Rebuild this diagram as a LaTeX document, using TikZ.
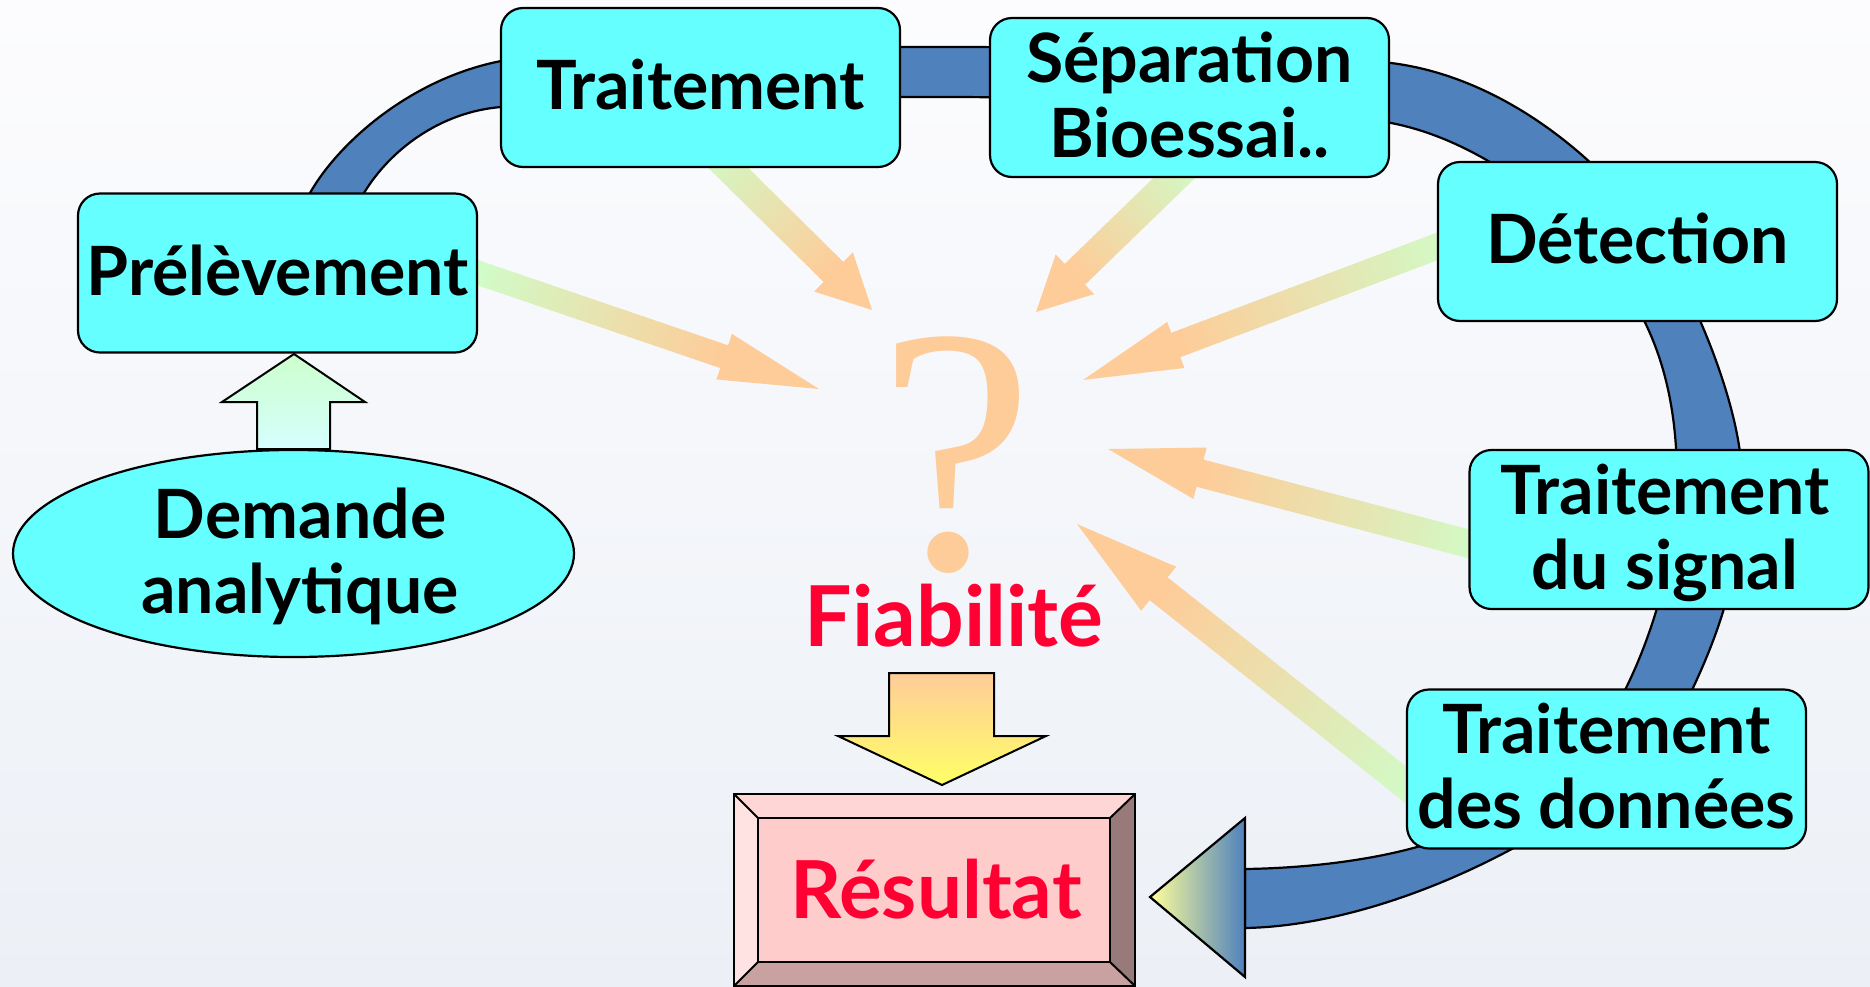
\documentclass[tikz,border=0pt]{standalone}
\usepackage{fontspec}
\setmainfont{Lato}
\newfontfamily\qfont{Liberation Serif}
\usetikzlibrary{calc,shapes.geometric}
\definecolor{bandblue}{RGB}{79,129,189}
\definecolor{boxcyan}{RGB}{102,255,255}
\definecolor{garrgreen}{RGB}{208,252,200}
\definecolor{garrorange}{RGB}{254,204,153}
\definecolor{fiared}{RGB}{255,0,51}
\definecolor{qorange}{RGB}{254,204,153}
\definecolor{bgtop}{RGB}{252,252,254}
\definecolor{bgbot}{RGB}{236,240,246}
\definecolor{rescenter}{RGB}{255,204,204}
\definecolor{restop}{RGB}{255,214,214}
\definecolor{resleft}{RGB}{255,227,227}
\definecolor{resright}{RGB}{153,122,122}
\definecolor{resbottom}{RGB}{201,161,161}
\definecolor{upgreen}{RGB}{204,255,204}
\definecolor{upcyan}{RGB}{214,255,255}
\definecolor{dnorange}{RGB}{255,204,153}
\definecolor{dnyellow}{RGB}{255,255,102}
\definecolor{headyellow}{RGB}{255,255,153}

\newcommand\tstrut{\rule[-13.5pt]{0pt}{71.5pt}}

% gradient arrow: #1 tail, #2 tip, #3 shaft width, #4 head width, #5 head length
\newcommand\gradarrow[5]{%
  \path let \p1=(#1), \p2=(#2) in \pgfextra{%
    \pgfmathsetmacro\tmpL{veclen(\x2-\x1,\y2-\y1)}%
    \pgfmathsetmacro\tmpA{atan2(\y2-\y1,\x2-\x1)}%
    \xdef\gaL{\tmpL}\xdef\gaA{\tmpA}};
  \begin{scope}[shift={(#1)}, rotate=\gaA]
    \pgfmathsetmacro\gaB{\gaL-#5}
    \begin{scope}
      \clip (0,-#3/2) -- (\gaB,-#3/2) -- (\gaB,-#4/2) -- (\gaL,0) -- (\gaB,#4/2) -- (\gaB,#3/2) -- (0,#3/2) -- cycle;
      \foreach \k in {0,...,29}{
        \pgfmathtruncatemacro\gaC{100*\k/29}
        \fill[garrorange!\gaC!garrgreen] ({\gaB*\k/30},-40) rectangle ({\gaB*(\k+1)/30+1},40);
      }
      \fill[garrorange] (\gaB,-40) rectangle (\gaL+2,40);
    \end{scope}
  \end{scope}
}

\begin{document}
\begin{tikzpicture}[x=1pt,y=-1pt,
  box/.style={draw=black, line width=2.2pt, fill=boxcyan, rounded corners=22pt,
    minimum width=399pt, minimum height=159pt, inner sep=0pt},
  boxtext/.style={font=\fontsize{68}{75}\selectfont\bfseries, align=center, inner sep=0pt, text=black},
  ellbox/.style={draw=black, line width=2.2pt, fill=boxcyan, ellipse, inner sep=0pt,
    minimum width=561pt, minimum height=207pt},
  bandline/.style={draw=black, line width=2.2pt, fill=bandblue},
  redtext/.style={text=fiared, inner sep=0pt}
]
\useasboundingbox (0,0) rectangle (1870,986);
\shade[top color=bgtop, bottom color=bgbot] (0,0) rectangle (1870,986);

% blue cycle band (outer edge, then inner edge back)
\filldraw[bandline]
  (300,225) -- (310,193)
  .. controls (340,140) and (420,70) .. (520,58)
  .. controls (600,48.4) and (800,47) .. (950,47)
  .. controls (1100,47) and (1300,52) .. (1391,63)
  .. controls (1480,74) and (1570,130) .. (1640,215)
  .. controls (1682,266) and (1742,400) .. (1742,480)
  .. controls (1742,560) and (1725,620) .. (1692,690)
  .. controls (1650,790) and (1420,925) .. (1245,928)
  -- (1245,869)
  .. controls (1310,868) and (1370,860) .. (1417,847)
  .. controls (1500,822) and (1590,760) .. (1625,690)
  .. controls (1650,640) and (1677,560) .. (1677,480)
  .. controls (1677,390) and (1655,330) .. (1620,280)
  .. controls (1570,210) and (1480,140) .. (1391,123)
  .. controls (1300,106) and (1100,97) .. (945,97)
  .. controls (800,97) and (600,100) .. (501,107)
  .. controls (440,112) and (390,150) .. (364,193)
  -- (375,225) -- cycle;

% gradient arrows towards the question mark
\coordinate (a1) at (470,270);  \coordinate (q1) at (819,389);
\coordinate (a2) at (700,140);  \coordinate (q2) at (872,310);
\coordinate (a3) at (1200,153); \coordinate (q3) at (1036,312);
\coordinate (a4) at (1470,234); \coordinate (q4) at (1083,380);
\coordinate (a5) at (1500,552); \coordinate (q5) at (1108,449);
\coordinate (a6) at (1430,804); \coordinate (q6) at (1077,524);
\gradarrow{a1}{q1}{24}{48}{100}
\gradarrow{a2}{q2}{28}{55}{54}
\gradarrow{a3}{q3}{29}{55}{54}
\gradarrow{a4}{q4}{26}{49}{99}
\gradarrow{a5}{q5}{28}{53}{95}
\gradarrow{a6}{q6}{29}{56}{104}

% step boxes
\node[box] (prel) at (277.5,273) {};
\node[boxtext] (prelt) at (prel.center) {\tstrut Prélèvement};
\node[box] (trait) at (700.5,87.5) {};
\node[boxtext] (traitt) at (trait.center) {\tstrut Traitement};
\node[box] (sep) at (1189.5,97.5) {};
\node[boxtext] (sept) at (sep.center) {\tstrut Séparation\\\tstrut Bioessai..};
\node[box] (det) at (1637.5,241.5) {};
\node[boxtext] (dett) at (det.center) {\tstrut Détection};
\node[box] (sig) at (1669,529.5) {};
\node[boxtext] (sigt) at ([xshift=-4pt]sig.center) {\tstrut Traitement\\\tstrut du signal};
\node[box] (don) at (1606.5,769) {};
\node[boxtext] (dont) at (don.center) {\tstrut Traitement\\\tstrut des données};

% demande analytique
\shadedraw[top color=upgreen, bottom color=upcyan, draw=black, line width=2pt]
  (257,449) -- (257,402) -- (222,402) -- (294,354) -- (365,402) -- (330,402) -- (330,449) -- cycle;
\node[ellbox] (dem) at (293.5,553.5) {};
\node[boxtext] (demt) at (300,553.5) {\tstrut Demande\\\tstrut analytique};

% question mark and reliability
\node[font=\qfont\fontsize{350}{350}\selectfont, text=qorange, anchor=base, inner sep=0pt] (qm) at (956,568) {?};
\node[redtext, font=\fontsize{84}{90}\selectfont\bfseries, anchor=base] (fia) at (954,646) {Fiabilité};

\shadedraw[top color=dnorange, bottom color=dnyellow, draw=black, line width=2pt]
  (889,673) -- (994,673) -- (994,736) -- (1046,736) -- (942,785) -- (838,736) -- (889,736) -- cycle;

% result bevel box
\fill[restop] (734,794) -- (1135,794) -- (1110,818) -- (758,818) -- cycle;
\fill[resleft] (734,794) -- (758,818) -- (758,962) -- (734,986) -- cycle;
\fill[resright] (1135,794) -- (1135,986) -- (1110,962) -- (1110,818) -- cycle;
\fill[resbottom] (734,986) -- (758,962) -- (1110,962) -- (1135,986) -- cycle;
\draw[line width=2pt] (734,794) rectangle (1135,986);
\draw[line width=2pt] (734,794) -- (758,818) (1135,794) -- (1110,818) (734,986) -- (758,962) (1135,986) -- (1110,962);
\node[draw=black, line width=2pt, fill=rescenter, minimum width=352pt, minimum height=144pt, inner sep=0pt] (res) at (934,890) {};
\node[redtext, font=\fontsize{80}{90}\selectfont\bfseries] (rest) at (936,889) {Résultat};

% head of the cycle arrow
\shadedraw[left color=headyellow, right color=bandblue, draw=black, line width=2.2pt]
  (1245,818) -- (1245,977) -- (1150,897) -- cycle;
\end{tikzpicture}
\end{document}
